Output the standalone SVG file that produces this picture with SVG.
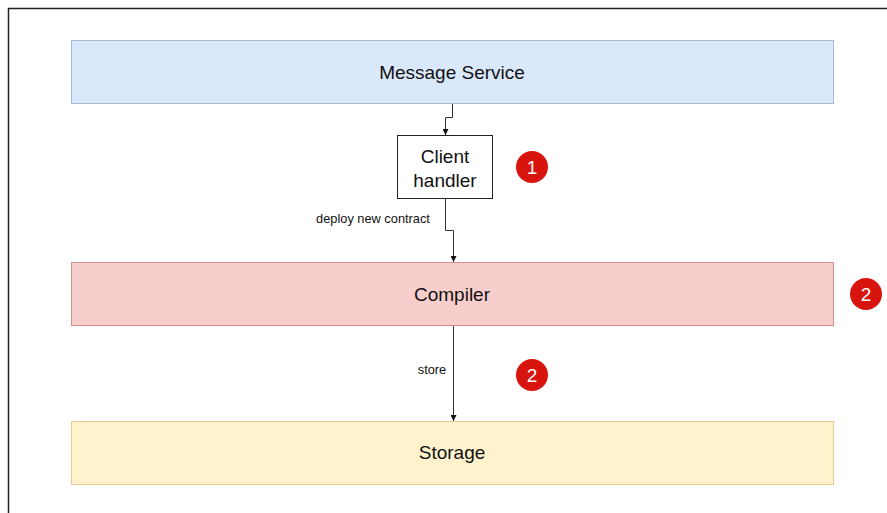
<svg xmlns="http://www.w3.org/2000/svg" width="887" height="513" viewBox="0 0 887 513">
  <style>
    .label { font-family: "Liberation Sans", Arial, sans-serif; font-size: 19px; fill: #111; text-anchor: middle; dominant-baseline: central; }
    .edge-label { font-family: "Liberation Sans", Arial, sans-serif; font-size: 12.8px; fill: #111; text-anchor: middle; dominant-baseline: central; }
    .badge circle { fill: #d8140f; }
    .badge text { font-family: "Liberation Sans", Arial, sans-serif; font-size: 19px; fill: #fff; text-anchor: middle; dominant-baseline: central; }
    .edge { fill: none; stroke: #333; stroke-width: 1; }
  </style>
  <defs>
    <marker id="arrow" viewBox="0 0 6 6" refX="6" refY="3" markerWidth="6" markerHeight="6" markerUnits="userSpaceOnUse" orient="auto">
      <path d="M0,0 L6,3 L0,6 Z" fill="#111"/>
    </marker>
  </defs>

  <rect width="887" height="513" fill="#fff"/>
  <!-- outer frame -->
  <path d="M8.5,513 V8.5 H887" fill="none" stroke="#222" stroke-width="1.5"/>

  <g id="message-service">
    <rect x="71.5" y="40.5" width="762" height="63" fill="#dae8fc" stroke="#a6bcd6"/>
    <text class="label" x="452" y="72">Message Service</text>
  </g>

  <g id="client-handler">
    <rect x="397.5" y="135.5" width="95" height="63" fill="#fff" stroke="#222"/>
    <text class="label" x="445" y="156">Client</text>
    <text class="label" x="445" y="180">handler</text>
  </g>

  <g id="compiler">
    <rect x="71.5" y="262.5" width="762" height="63" fill="#f8cecc" stroke="#cf8f8c"/>
    <text class="label" x="452" y="294">Compiler</text>
  </g>

  <g id="storage">
    <rect x="71.5" y="421.5" width="762" height="63" fill="#fff2cc" stroke="#e3d08e"/>
    <text class="label" x="452" y="452">Storage</text>
  </g>

  <g id="connectors">
    <path class="edge" d="M452.5,104 V117.5 H445.5 V135" marker-end="url(#arrow)"/>
    <path class="edge" d="M445.5,199 V230.5 H453.5 V262" marker-end="url(#arrow)"/>
    <text class="edge-label" x="373" y="218">deploy new contract</text>
    <path class="edge" d="M453.5,326 V421" marker-end="url(#arrow)" stroke="#777"/>
    <text class="edge-label" x="432" y="369">store</text>
  </g>

  <g id="badge-1" class="badge">
    <circle cx="532" cy="167" r="16"/>
    <text x="532" y="167">1</text>
  </g>
  <g id="badge-2a" class="badge">
    <circle cx="866" cy="294" r="16"/>
    <text x="866" y="294">2</text>
  </g>
  <g id="badge-2b" class="badge">
    <circle cx="532" cy="375" r="16"/>
    <text x="532" y="375">2</text>
  </g>
</svg>
